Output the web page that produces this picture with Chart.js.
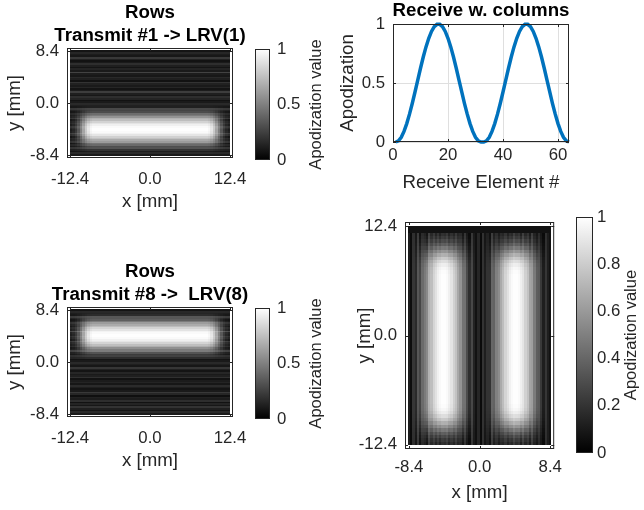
<!DOCTYPE html>
<html>
<head>
<meta charset="utf-8">
<title>Apodization</title>
<script src="https://cdn.jsdelivr.net/npm/chart.js@4.4.1/dist/chart.umd.min.js"></script>
<style>
  html, body { margin: 0; padding: 0; background: #ffffff; }
  #figure { position: relative; width: 644px; height: 510px; overflow: hidden; background: #ffffff; }
  #figure canvas { position: absolute; }
</style>
</head>
<body>
<div id="figure">
  <canvas id="rows1" width="300" height="216" style="left:0px;top:0px"></canvas>
  <canvas id="rows8" width="300" height="216" style="left:0px;top:259px"></canvas>
  <canvas id="cols" width="225" height="310" style="left:345px;top:200px"></canvas>
  <canvas id="receive" width="302" height="200" style="left:330px;top:0px"></canvas>
  <canvas id="cbar1" width="100" height="216" style="left:240px;top:0px"></canvas>
  <canvas id="cbar8" width="100" height="216" style="left:240px;top:259px"></canvas>
  <canvas id="cbarCols" width="84" height="310" style="left:560px;top:200px"></canvas>
</div>
<script>
// receive apodization per element (two hann lobes)
const recvApod = [
  0, .010, .040, .090, .156, .236, .326, .424, .525, .625, .720, .806, .879, .937, .977, .997,
  .997, .977, .937, .879, .806, .720, .625, .525, .424, .326, .236, .156, .090, .040, .010, 0,
  0, .010, .040, .090, .156, .236, .326, .424, .525, .625, .720, .806, .879, .937, .977, .997,
  .997, .977, .937, .879, .806, .720, .625, .525, .424, .326, .236, .156, .090, .040, .010, 0
];
const elementNo = recvApod.map((v, i) => i + 1);

// transmit row apodization, row 0 = bottom (y = -8.4 mm)
const txApod1 = [
  0, .010, .040, .090, .156, .236, .326, .424, .525, .625, .720, .806, .879, .937, .977, .997,
  .997, .977, .937, .879, .806, .720, .625, .525, .424, .326, .236, .156, .090, .040, .010, 0,
  0, 0, 0, 0, 0, 0, 0, 0, 0, 0, 0, 0, 0, 0, 0, 0,
  0, 0, 0, 0, 0, 0, 0, 0, 0, 0, 0, 0, 0, 0, 0, 0
];
const txApod8 = [
  0, 0, 0, 0, 0, 0, 0, 0, 0, 0, 0, 0, 0, 0, 0, 0,
  0, 0, 0, 0, 0, 0, 0, 0, 0, 0, 0, 0, 0, 0, 0, 0,
  0, .010, .040, .090, .156, .236, .326, .424, .525, .625, .720, .806, .879, .937, .977, .997,
  .997, .977, .937, .879, .806, .720, .625, .525, .424, .326, .236, .156, .090, .040, .010, 0
];

// taper along the long (12.4 mm) direction
const taperX = [
  .03, .07, .15, .28, .45, .62, .78, .90, .97,
  1, 1, 1, 1, 1, 1, 1, 1, 1, 1, 1, 1, 1, 1, 1, 1, 1, 1, 1, 1, 1, 1, 1,
  1, 1, 1, 1, 1, 1, 1, 1, 1, 1, 1, 1, 1, 1, 1, 1, 1, 1, 1, 1, 1, 1, 1,
  .97, .90, .78, .62, .45, .28, .15, .07, .03
];
const taperY = [
  .10, .15, .22, .31, .42, .54, .66, .77, .86, .93, .97, .99,
  1, 1, 1, 1, 1, 1, 1, 1, 1, 1, 1, 1, 1, 1, 1, 1, 1, 1,
  1, 1, 1, 1, 1, 1, 1, 1, 1, 1, 1, 1, 1, 1, 1, 1, 1, 1, 1, 1,
  .99, .97, .93, .86, .77, .66, .54, .42, .31, .22, .15, .10
];

// background level of the inactive rows / columns (the stripes)
const bgRows = [
  .10, .16, .08, .12, .20, .09, .14, .07, .18, .11, .13, .06, .15, .22, .10, .08,
  .12, .17, .09, .14, .11, .07, .19, .12, .10, .15, .08, .13, .21, .09, .12, .16,
  .10, .07, .14, .18, .09, .12, .24, .11, .08, .15, .10, .13, .20, .07, .12, .16,
  .09, .11, .26, .10, .14, .08, .12, .18, .10, .07, .13, .22, .09, .11, .15, .08
];
const bgCols = [
  .12, .04, .18, .08, .22, .05, .14, .10, .03, .20, .09, .15, .06, .12, .04, .10,
  .08, .13, .05, .11, .07, .16, .09, .12, .05, .18, .08, .03, .21, .10, .06, .15,
  .04, .19, .08, .12, .05, .22, .09, .14, .06, .11, .08, .13, .05, .10, .07, .16,
  .09, .12, .04, .17, .08, .14, .05, .20, .10, .06, .15, .08, .03, .18, .11, .07
];

const shortTicks = [-8.4, 0, 8.4];
const shortTickLabels = ['-8.4', '0.0', '8.4'];
const longTicks = [-12.4, 0, 12.4];
const longTickLabels = ['-12.4', '0.0', '12.4'];
const elemTicks = [0, 20, 40, 60];
const elemTickLabels = ['0', '20', '40', '60'];
const apodTicks = [0, 0.5, 1];
const apodTickLabels = ['0', '0.5', '1'];
const cbFineTicks = [0, 0.2, 0.4, 0.6, 0.8, 1];
const cbFineTickLabels = ['0', '0.2', '0.4', '0.6', '0.8', '1'];

Chart.defaults.font.family = "'Liberation Sans', Arial, Helvetica, sans-serif";
Chart.defaults.color = '#262626';
Chart.defaults.animation = false;

const TICK_FONT = { size: 16.8 };
const LABEL_FONT = { size: 18.7 };
const TITLE_FONT = { size: 18.7, weight: 'bold', lineHeight: 1.23 };

function fixedTicks(values) {
  return function(scale) { scale.ticks = values.map(v => ({ value: v })); };
}

function makeCells(nCols, nRows, xr, yr, valueAt) {
  const dx = (xr[1] - xr[0]) / nCols, dy = (yr[1] - yr[0]) / nRows;
  const cells = [];
  for (let r = 0; r < nRows; r++) {
    for (let c = 0; c < nCols; c++) {
      cells.push({ x: xr[0] + (c + 0.5) * dx, y: yr[0] + (r + 0.5) * dy, v: valueAt(r, c) });
    }
  }
  return { cells: cells, dx: dx, dy: dy };
}

const heatmapPlugin = {
  id: 'heatmap',
  beforeDatasetsDraw(chart, args, opts) {
    const xs = chart.scales.x, ys = chart.scales.y, ctx = chart.ctx;
    ctx.save();
    chart.data.datasets[0].data.forEach(function(p) {
      const l = Math.round(xs.getPixelForValue(p.x - opts.dx / 2));
      const r = Math.round(xs.getPixelForValue(p.x + opts.dx / 2));
      const t = Math.round(ys.getPixelForValue(p.y + opts.dy / 2));
      const b = Math.round(ys.getPixelForValue(p.y - opts.dy / 2));
      const g = Math.round(Math.max(0, Math.min(1, p.v)) * 255);
      ctx.fillStyle = 'rgb(' + g + ',' + g + ',' + g + ')';
      ctx.fillRect(l, t, r - l, b - t);
    });
    ctx.restore();
  }
};

// matlab style box with inward ticks
const boxPlugin = {
  id: 'boxAxes',
  afterDraw(chart, args, opts) {
    const ctx = chart.ctx, a = chart.chartArea;
    const len = opts.tickLen || 0;
    ctx.save();
    ctx.strokeStyle = '#262626';
    ctx.lineWidth = 1;
    ctx.strokeRect(a.left + 0.5, a.top + 0.5, a.right - a.left - 1, a.bottom - a.top - 1);
    if (len) {
      ctx.beginPath();
      chart.scales.x.ticks.forEach(function(t) {
        const p = Math.round(chart.scales.x.getPixelForValue(t.value)) + 0.5;
        ctx.moveTo(p, a.bottom); ctx.lineTo(p, a.bottom - len);
        ctx.moveTo(p, a.top); ctx.lineTo(p, a.top + len);
      });
      chart.scales.y.ticks.forEach(function(t) {
        const p = Math.round(chart.scales.y.getPixelForValue(t.value)) + 0.5;
        ctx.moveTo(a.left, p); ctx.lineTo(a.left + len, p);
        ctx.moveTo(a.right, p); ctx.lineTo(a.right - len, p);
      });
      ctx.stroke();
    }
    ctx.restore();
  }
};

// rotated colorbar label, reads bottom to top
const cbLabelPlugin = {
  id: 'cbLabel',
  afterDraw(chart, args, opts) {
    const ctx = chart.ctx, a = chart.chartArea;
    ctx.save();
    ctx.translate(a.right + opts.offset, (a.top + a.bottom) / 2);
    ctx.rotate(-Math.PI / 2);
    ctx.font = opts.size + "px 'Liberation Sans', Arial, sans-serif";
    ctx.fillStyle = '#262626';
    ctx.textAlign = 'center';
    ctx.textBaseline = 'middle';
    ctx.fillText(opts.text, 0, 0);
    ctx.restore();
  }
};

function heatmapChart(id, cfg) {
  const scales = {
    x: {
      type: 'linear', min: cfg.xRange[0], max: cfg.xRange[1],
      afterBuildTicks: fixedTicks(cfg.xTicks),
      afterFit: function(s) { s.height = cfg.xHeight; },
      ticks: { callback: (v, i) => cfg.xLabels[i], font: TICK_FONT, padding: cfg.xTickPad, maxRotation: 0, autoSkip: false },
      grid: { display: false, drawTicks: false }, border: { display: false },
      title: { display: true, text: 'x [mm]', font: LABEL_FONT, padding: 0 }
    },
    y: {
      type: 'linear', min: cfg.yRange[0], max: cfg.yRange[1],
      afterBuildTicks: fixedTicks(cfg.yTicks),
      afterFit: function(s) { s.width = cfg.yWidth; },
      ticks: { callback: (v, i) => cfg.yLabels[i], font: TICK_FONT, padding: 8, autoSkip: false },
      grid: { display: false, drawTicks: false }, border: { display: false },
      title: { display: true, text: 'y [mm]', font: LABEL_FONT, padding: { top: cfg.yTitlePad, bottom: 0 } }
    }
  };
  if (cfg.title) {
    // empty axis on the right so the title centres over the image
    scales.pad = {
      type: 'linear', position: 'right', display: true,
      afterFit: function(s) { s.width = cfg.yWidth; },
      ticks: { display: false }, grid: { display: false }, border: { display: false }
    };
  }
  return new Chart(document.getElementById(id), {
    type: 'scatter',
    data: { datasets: [{ data: cfg.map.cells, pointRadius: 0, pointHoverRadius: 0 }] },
    plugins: [heatmapPlugin, boxPlugin],
    options: {
      responsive: false,
      events: [],
      layout: { padding: cfg.padding },
      plugins: {
        legend: { display: false },
        tooltip: { enabled: false },
        title: cfg.title
          ? { display: true, text: cfg.title, color: '#000000', font: TITLE_FONT, padding: { top: 0, bottom: 1 } }
          : { display: false },
        heatmap: { dx: cfg.map.dx, dy: cfg.map.dy },
        boxAxes: { tickLen: 3 }
      },
      scales: scales
    }
  });
}

function colorbarChart(id, cfg) {
  return new Chart(document.getElementById(id), {
    type: 'bar',
    data: {
      labels: [''],
      datasets: [{
        data: [[0, 1]],
        barPercentage: 1,
        categoryPercentage: 1,
        borderWidth: 0,
        backgroundColor: function(context) {
          const a = context.chart.chartArea;
          if (!a) return '#808080';
          const g = context.chart.ctx.createLinearGradient(0, a.bottom, 0, a.top);
          g.addColorStop(0, '#000000');
          g.addColorStop(1, '#ffffff');
          return g;
        }
      }]
    },
    plugins: [boxPlugin, cbLabelPlugin],
    options: {
      responsive: false,
      events: [],
      layout: { padding: cfg.padding },
      plugins: {
        legend: { display: false },
        tooltip: { enabled: false },
        boxAxes: { tickLen: 0 },
        cbLabel: { text: 'Apodization value', offset: cfg.labelOffset, size: 16.5 }
      },
      scales: {
        x: { display: false },
        y: {
          position: 'right', min: 0, max: 1,
          afterBuildTicks: fixedTicks(cfg.ticks),
          afterFit: function(s) { s.width = cfg.axisWidth; },
          ticks: { callback: (v, i) => cfg.labels[i], font: TICK_FONT, padding: cfg.tickPad, autoSkip: false },
          grid: { display: false, drawTicks: false }, border: { display: false }
        }
      }
    }
  });
}

const map1 = makeCells(64, 64, [-12.45, 12.45], [-8.533, 8.533],
  (r, c) => bgRows[r] + (1 - bgRows[r]) * txApod1[r] * taperX[c]);
const map8 = makeCells(64, 64, [-12.45, 12.45], [-8.533, 8.533],
  (r, c) => bgRows[r] + (1 - bgRows[r]) * txApod8[r] * taperX[c]);
const mapCols = makeCells(64, 64, [-8.533, 8.533], [-12.45, 12.45],
  (r, c) => bgCols[c] + (1 - bgCols[c]) * recvApod[c] * taperY[r]);

const rowPanel = {
  xRange: [-12.87, 12.87], yRange: [-8.9, 8.9],
  xTicks: longTicks, xLabels: longTickLabels, yTicks: shortTicks, yLabels: shortTickLabels,
  xHeight: 55, xTickPad: 11, yWidth: 67, yTitlePad: 3.8,
  padding: { top: 1, bottom: 3, left: 0, right: 0 }
};

heatmapChart('rows1', Object.assign({}, rowPanel, { map: map1, title: ['Rows', 'Transmit #1 -> LRV(1)'] }));
heatmapChart('rows8', Object.assign({}, rowPanel, { map: map8, title: ['Rows', 'Transmit #8 ->  LRV(8)'] }));
heatmapChart('cols', {
  map: mapCols,
  xRange: [-8.87, 8.87], yRange: [-12.87, 12.87],
  xTicks: shortTicks, xLabels: shortTickLabels, yTicks: longTicks, yLabels: longTickLabels,
  xHeight: 55, xTickPad: 8, yWidth: 60, yTitlePad: 8.5,
  padding: { top: 22, bottom: 6, left: 0, right: 4 }
});

new Chart(document.getElementById('receive'), {
  type: 'line',
  data: {
    datasets: [{
      data: elementNo.map((e, i) => ({ x: e, y: recvApod[i] })),
      borderColor: '#0072BD',
      borderWidth: 3.5,
      pointRadius: 0,
      tension: 0,
      clip: false
    }]
  },
  plugins: [boxPlugin],
  options: {
    responsive: false,
    events: [],
    layout: { padding: { top: 0, bottom: 6, left: 0, right: 0 } },
    plugins: {
      legend: { display: false },
      tooltip: { enabled: false },
      title: { display: true, text: 'Receive w. columns', color: '#000000',
               font: { size: 18.7, weight: 'bold', lineHeight: 1.15 }, padding: { top: 0, bottom: 2.5 } },
      boxAxes: { tickLen: 3 }
    },
    scales: {
      x: {
        type: 'linear', min: 0, max: 64,
        afterBuildTicks: fixedTicks(elemTicks),
        afterFit: function(s) { s.height = 52; },
        ticks: { callback: (v, i) => elemTickLabels[i], font: TICK_FONT, padding: 3.4, maxRotation: 0, autoSkip: false },
        grid: { color: '#dfdfdf', drawTicks: false }, border: { display: false },
        title: { display: true, text: 'Receive Element #', font: LABEL_FONT, padding: 0 }
      },
      y: {
        type: 'linear', min: 0, max: 1,
        afterBuildTicks: fixedTicks(apodTicks),
        afterFit: function(s) { s.width = 63; },
        ticks: { callback: (v, i) => apodTickLabels[i], font: TICK_FONT, padding: 8, autoSkip: false },
        grid: { color: '#dfdfdf', drawTicks: false }, border: { display: false },
        title: { display: true, text: 'Apodization', font: LABEL_FONT, padding: { top: 6.3, bottom: 0 } }
      },
      pad: {
        type: 'linear', position: 'right', display: true,
        afterFit: function(s) { s.width = 63; },
        ticks: { display: false }, grid: { display: false }, border: { display: false }
      }
    }
  }
});

colorbarChart('cbar1', {
  ticks: apodTicks, labels: apodTickLabels,
  padding: { top: 49, bottom: 56, left: 15, right: 0 }, axisWidth: 70, tickPad: 7, labelOffset: 46
});
colorbarChart('cbar8', {
  ticks: apodTicks, labels: apodTickLabels,
  padding: { top: 49, bottom: 56, left: 15, right: 0 }, axisWidth: 70, tickPad: 7, labelOffset: 46
});
colorbarChart('cbarCols', {
  ticks: cbFineTicks, labels: cbFineTickLabels,
  padding: { top: 17, bottom: 57, left: 16, right: 0 }, axisWidth: 51, tickPad: 4, labelOffset: 38
});
</script>
</body>
</html>
